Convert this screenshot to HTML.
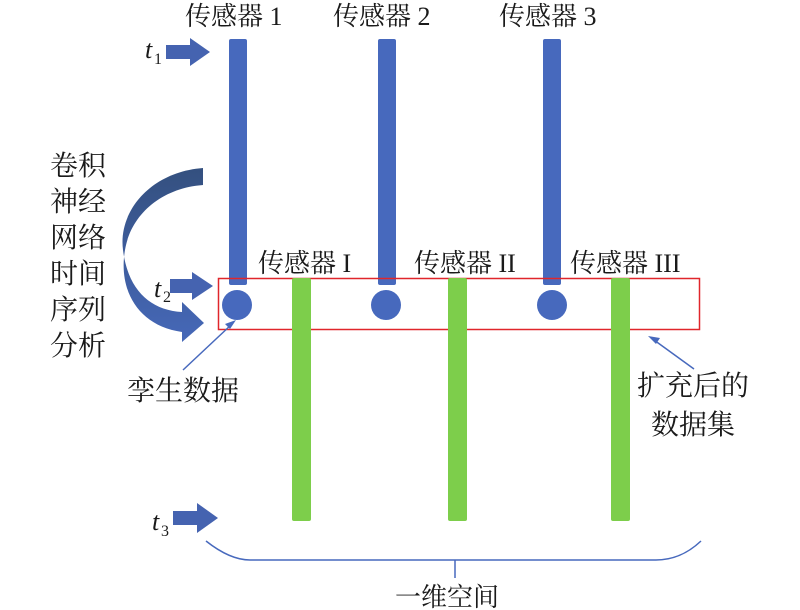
<!DOCTYPE html>
<html><head><meta charset="utf-8"><style>
html,body{margin:0;padding:0;background:#fff;}
svg{display:block;}
text{font-family:"Liberation Serif","Noto Serif CJK SC",serif;fill:#1a1a1a;}
</style></head><body>
<svg width="800" height="610" viewBox="0 0 800 610" xmlns="http://www.w3.org/2000/svg">
<defs>
<linearGradient id="g" x1="0" y1="0" x2="0" y2="1">
<stop offset="0" stop-color="#34507f"/><stop offset="1" stop-color="#4668b8"/>
</linearGradient>
</defs>
<g font-size="26">
<text x="185" y="25">传感器 1</text>
<text x="333" y="25">传感器 2</text>
<text x="499" y="25">传感器 3</text>
<text x="258" y="272">传感器 I</text>
<text x="414" y="272">传感器 II</text>
<text x="570" y="272">传感器 III</text>
</g>
<rect x="229" y="39" width="18" height="246" rx="2" fill="#4769bd"/>
<rect x="378" y="39" width="18" height="246" rx="2" fill="#4769bd"/>
<rect x="543" y="39" width="18" height="246" rx="2" fill="#4769bd"/>
<rect x="218.5" y="278.5" width="481" height="51" fill="none" stroke="#e0262b" stroke-width="1.5"/>
<rect x="292" y="278" width="19" height="243" rx="2" fill="#7dce4b"/>
<rect x="448" y="278" width="19" height="243" rx="2" fill="#7dce4b"/>
<rect x="611" y="278" width="19" height="243" rx="2" fill="#7dce4b"/>
<circle cx="237" cy="305" r="15" fill="#4769bd"/>
<circle cx="386" cy="305" r="15" fill="#4769bd"/>
<circle cx="552" cy="305" r="15" fill="#4769bd"/>
<g fill="#4563b0">
<path d="M166,45 L190,45 L190,38 L210,52 L190,66 L190,59 L166,59 Z"/>
<path d="M170,279 L192,279 L192,272 L213,286 L192,300 L192,293 L170,293 Z"/>
<path d="M173,511 L197,511 L197,503 L218,518 L197,533 L197,525 L173,525 Z"/>
</g>
<g font-size="26" font-style="italic">
<text x="145" y="58">t</text><text x="154" y="297">t</text><text x="152" y="530">t</text>
</g>
<g font-size="16">
<text x="154" y="64">1</text><text x="163" y="302">2</text><text x="161" y="536">3</text>
</g>
<path d="M203,168 C150,172 118,212 123,250 C128,290 150,310 182,312 L182,302 L204,323 L182,342 L182,332 C138,326 118,290 125,250 C131,214 162,188 203,185 Z" fill="url(#g)"/>
<g font-size="28">
<text x="50" y="175">卷积</text>
<text x="50" y="211">神经</text>
<text x="50" y="247">网络</text>
<text x="50" y="283">时间</text>
<text x="50" y="319">序列</text>
<text x="50" y="355">分析</text>
<text x="127" y="400">孪生数据</text>
<text x="637" y="395">扩充后的</text>
<text x="651" y="434">数据集</text>
</g>
<text x="395" y="606" font-size="26">一维空间</text>
<g stroke="#4769bd" stroke-width="1.5" fill="#4769bd">
<line x1="183" y1="370" x2="232" y2="324"/>
<path d="M236,320 L225,324 L230,329 Z" stroke="none"/>
<line x1="694" y1="369" x2="654" y2="340"/>
<path d="M648,336 L660,338 L656,344 Z" stroke="none"/>
</g>
<path d="M206,541 C225,556 240,560 250,560 L656,560 C670,560 685,556 701,541" fill="none" stroke="#4769bd" stroke-width="1.5"/>
<line x1="455" y1="560" x2="455" y2="578" stroke="#4769bd" stroke-width="1.5"/>
</svg>
</body></html>
